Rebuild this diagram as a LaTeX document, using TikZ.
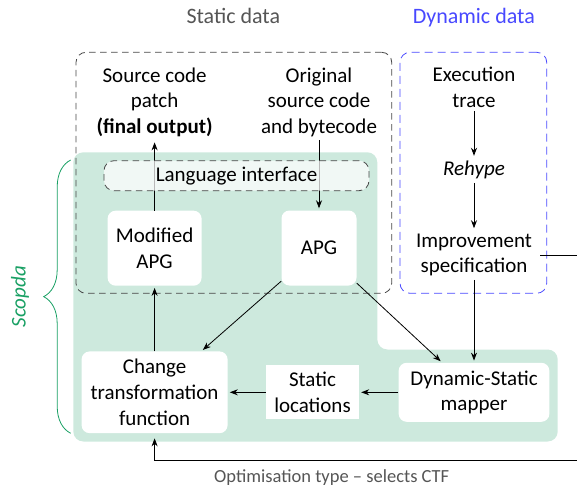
\documentclass[tikz,border=0pt]{standalone}
\usepackage{fontspec}
\setmainfont{Carlito}
\usetikzlibrary{arrows.meta,decorations.pathreplacing}
\definecolor{scopgreen}{RGB}{205,233,221}
\definecolor{bracegreen}{RGB}{25,160,100}
\definecolor{dynblue}{RGB}{72,72,255}
\definecolor{framegray}{RGB}{70,70,70}
\definecolor{labelgray}{RGB}{85,85,85}

\begin{document}
\begin{tikzpicture}[x=1pt,y=-1pt,
  every node/.style={font=\fontsize{21}{25.6}\selectfont, align=center},
  whitebox/.style={fill=white, rounded corners=8pt, inner sep=0pt},
  squarebox/.style={fill=white, inner sep=0pt},
  dataframe/.style={draw=framegray, line width=0.8pt, dash pattern=on 6.5pt off 4.5pt, rounded corners=10pt, inner sep=0pt},
  dynframe/.style={dataframe, draw=dynblue, dash pattern=on 8pt off 5pt},
  conn/.style={draw=black, line width=0.8pt, -{Stealth[length=8pt,width=6pt]}, shorten >=2pt},
]
\useasboundingbox (0,0) rectangle (577,489);
\clip (0,0) rectangle (577,489);

% the Scopda area
\fill[scopgreen, rounded corners=10pt] (73.3,152.3) -- (377.3,152.3) -- (377.3,349.5)
  -- (557.7,349.5) -- (557.7,441.5) -- (73.3,441.5) -- cycle;

% static and dynamic data frames
\node[dataframe, minimum width=315.7pt, minimum height=241pt] (sframe) at (233.85,172.8) {};
\node[dynframe, minimum width=146.7pt, minimum height=241pt] (dframe) at (473.35,172.8) {};
\node[text=labelgray, anchor=base, font=\fontsize{22}{26}\selectfont] (stitle) at (233.3,24) {Static data};
\node[text=dynblue, anchor=base, font=\fontsize{22}{26}\selectfont] (dtitle) at (473.8,24) {Dynamic data};

% free text entries
\node (patch) at (154.6,102.3) {Source code\\patch\\\textbf{(final output)}};
\node (orig) at (319,102.3) {Original\\source code\\and bytecode};
\node (exec) at (474,87.3) {Execution\\trace};
\node (rehype) at (474,170.3) {\textit{Rehype}};
\node[minimum width=132pt] (impr) at (474,255) {Improvement\\specification};

% boxes
\node[whitebox, minimum width=94pt, minimum height=75pt] (modapg) at (154.6,248.2) {Modified\\APG};
\node[whitebox, minimum width=75pt, minimum height=75pt] (apg) at (319,248) {APG};
\node[whitebox, minimum width=146pt, minimum height=81.7pt] (ctf) at (154.6,392.3) {Change\\transformation\\function};
\node[squarebox, minimum width=93pt, minimum height=54pt] (sloc) at (312.5,392.3) {Static\\locations};
\node[whitebox, minimum width=150.7pt, minimum height=59pt] (mapper) at (474,392.3) {Dynamic-Static\\mapper};

% connectors
\draw[conn] (exec) -- (rehype);
\draw[conn] (rehype) -- (impr);
\draw[conn] (impr) -- (mapper);
\draw[conn] (orig) -- (apg);
\draw[conn] (modapg) -- (patch);
\draw[conn] (ctf) -- (modapg);
\draw[conn] (apg) -- (ctf);
\draw[conn] (apg) -- (mapper);
\draw[conn] (mapper) -- (sloc);
\draw[conn] (sloc) -- (ctf);
\coordinate (turn) at (600,460);
\draw[conn, shorten >=5pt] (impr.east) -| (turn) -| (ctf.south);
\node[text=labelgray, font=\fontsize{18.5}{22}\selectfont] (otype) at (331.7,477.5) {Optimisation type – selects CTF};

% language interface sits over the arrows that cross it
\node[dataframe, fill=white, fill opacity=0.72, text opacity=1, minimum width=265pt, minimum height=30pt] (lang) at (236.5,175.7) {Language interface};

% Scopda brace
\draw[bracegreen, line width=0.8pt, decorate, decoration={brace, amplitude=27pt}] (70.7,433.3) -- (70.7,160);
\node[text=bracegreen, rotate=90] (scopda) at (20,296.7) {\textit{Scopda}};
\end{tikzpicture}
\end{document}
